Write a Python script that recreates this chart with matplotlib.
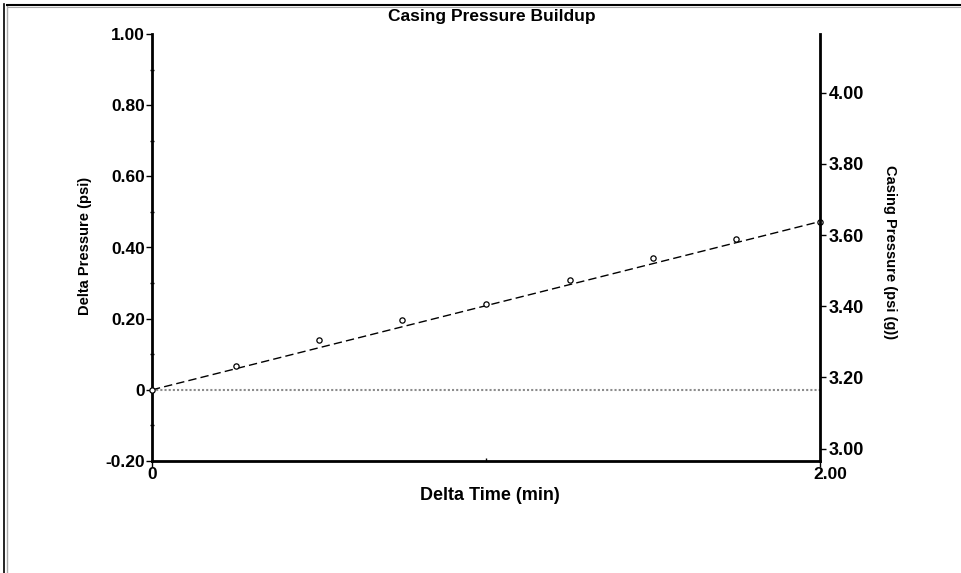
import matplotlib
matplotlib.use("Agg")
import matplotlib.pyplot as plt
import matplotlib.transforms as mtransforms
from matplotlib.lines import Line2D
from matplotlib.ticker import FuncFormatter, MultipleLocator

# data
delta_time = [0, 0.25, 0.50, 0.75, 1.00, 1.25, 1.50, 1.75, 2.00]
delta_pressure = [0, 0.068, 0.141, 0.197, 0.242, 0.308, 0.371, 0.424, 0.473]
fit_time = [0, 2.00]
fit_pressure = [0, 0.473]
base_pressure = 3.165  # casing pressure at delta = 0
left_ticks = [-0.20, 0, 0.20, 0.40, 0.60, 0.80, 1.00]
right_ticks = [3.00, 3.20, 3.40, 3.60, 3.80, 4.00]
x_ticks = [0, 2.00]

plt.rcParams['font.family'] = ['Liberation Sans', 'DejaVu Sans']
plt.rcParams['font.weight'] = 'bold'

fig = plt.figure(figsize=(9.61, 5.73), dpi=100)
ax = fig.add_axes([152 / 961, 1 - 461 / 573, 668 / 961, 427 / 573])

# zero reference line
ax.plot([0, 2.0], [0, 0], color='#8c8c8c', lw=1.5, linestyle=(0, (1, 1)), zorder=1)
# fitted line
ax.plot(fit_time, fit_pressure, color='black', lw=1, linestyle=(0, (6, 3)), zorder=2)
# measured points
ax.plot(delta_time, delta_pressure, 'o', ms=3.8, mfc='white', mec='black', mew=0.9,
        zorder=3, clip_on=False)

ax.set_xlim(0, 2.0)
ax.set_ylim(-0.20, 1.00)

def fmt(v, pos):
    return "0" if abs(v) < 1e-9 else f"{v:.2f}"

ax.set_yticks(left_ticks)
ax.yaxis.set_major_formatter(FuncFormatter(fmt))
ax.yaxis.set_minor_locator(MultipleLocator(0.1))
ax.set_xticks(x_ticks)
ax.xaxis.set_major_formatter(FuncFormatter(fmt))
ax.xaxis.set_minor_locator(MultipleLocator(1.0))

ax.spines['top'].set_visible(False)
ax.spines['right'].set_visible(False)
ax.spines['left'].set_linewidth(2)
ax.spines['bottom'].set_linewidth(2)
ax.tick_params(axis='both', which='major', length=4, width=1, labelsize=12.5, pad=1)
ax.tick_params(axis='x', which='major', pad=0)
ax.tick_params(axis='y', which='minor', length=3, width=1, direction='inout')
ax.tick_params(axis='x', which='minor', length=2, width=1, direction='in')
for lab in ax.get_xticklabels() + ax.get_yticklabels():
    lab.set_fontweight('bold')
# the 2.00 label sits a little right of its tick in the original
shift = mtransforms.ScaledTranslation(10 / 100, 0, fig.dpi_scale_trans)
lab_end = ax.get_xticklabels()[-1]
lab_end.set_transform(lab_end.get_transform() + shift)

ax2 = ax.twinx()
ax2.set_ylim(-0.20 + base_pressure, 1.00 + base_pressure)
ax2.set_yticks(right_ticks)
ax2.yaxis.set_major_formatter(FuncFormatter(lambda v, p: f"{v:.2f}"))
for s in ['top', 'left', 'bottom']:
    ax2.spines[s].set_visible(False)
ax2.spines['right'].set_linewidth(2)
ax2.tick_params(axis='y', length=4, width=1, labelsize=13, pad=2)
for lab in ax2.get_yticklabels():
    lab.set_fontweight('bold')

fig.text(492 / 961, 1 - 16 / 573, "Casing Pressure Buildup", ha='center', va='center',
         fontsize=12.5, fontweight='bold')
fig.text(490 / 961, 1 - 495 / 573, "Delta Time (min)", ha='center', va='center',
         fontsize=13, fontweight='bold')
fig.text(85 / 961, 1 - 246 / 573, "Delta Pressure (psi)", ha='center', va='center',
         rotation=90, fontsize=10.5, fontweight='bold')
fig.text(890 / 961, 1 - 252 / 573, "Casing Pressure (psi (g))", ha='center', va='center',
         rotation=-90, fontsize=10.5, fontweight='bold')

# outer frame lines
fig.add_artist(Line2D([3.5 / 961, 3.5 / 961], [0, 1 - 4 / 573], color='black', lw=1.2))
fig.add_artist(Line2D([7 / 961, 7 / 961], [0, 1 - 6 / 573], color='#aaaaaa', lw=1))
fig.add_artist(Line2D([7 / 961, 1], [1 - 4.5 / 573, 1 - 4.5 / 573], color='black', lw=1.5))
fig.add_artist(Line2D([8 / 961, 1], [1 - 6.5 / 573, 1 - 6.5 / 573], color='#aaaaaa', lw=0.8))

fig.savefig("out.png", dpi=100)
